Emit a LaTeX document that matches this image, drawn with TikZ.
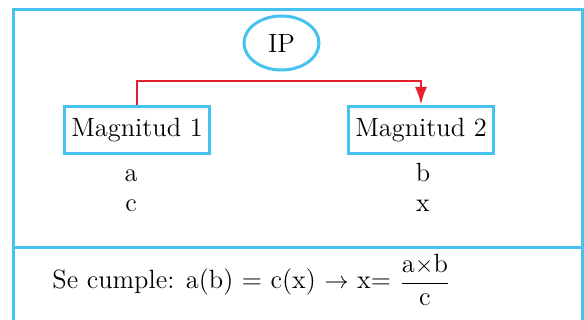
\documentclass[tikz,border=0pt]{standalone}
\usepackage{amsmath}
\usepackage{fontspec}
\usepackage{tikz}
\usetikzlibrary{arrows.meta,positioning,shapes.geometric}
\definecolor{frameblue}{HTML}{45C3EE}
\definecolor{linkred}{HTML}{E6212B}

\begin{document}
\begin{tikzpicture}[x=0.5pt,y=-0.5pt,>=Latex,
    font=\fontsize{13.2}{15}\selectfont,
    magbox/.style={draw=frameblue,line width=1.5pt,minimum width=72.5pt,
      minimum height=23.5pt,inner sep=0pt},
    valtext/.style={anchor=base,inner sep=0pt}]
    \useasboundingbox (0,0) rectangle (584,320);
    % marco exterior (abierto por abajo)
    \draw[frameblue,line width=1.5pt] (13,330) -- (13,10) -- (582,10) -- (582,330);
    \draw[frameblue,line width=1.5pt] (13,248) -- (582,248);
    \node[ellipse,draw=frameblue,line width=1.5pt,minimum width=37.5pt,
      minimum height=27pt,inner sep=0pt] (ip) at (281.5,43) {IP};
    \node[magbox] (mag1) at (137,130) {Magnitud 1};
    \node[magbox] (mag2) at (421,130) {Magnitud 2};
    \draw[linkred,line width=1.4pt,arrows={-Latex[length=9pt,width=6pt]}]
      (mag1.north) -- ++(0,-24) -| (mag2.north);
    \node[valtext] (vala) at (131,182) {a};
    \node[valtext] (valc) at (131,212) {c};
    \node[valtext] (valb) at (423,182) {b};
    \node[valtext] (valx) at (423,212) {x};
    \node[anchor=base west,inner sep=0pt] (rule) at (52,289)
      {Se cumple: a(b) = c(x) $\rightarrow$ x= $\dfrac{\mathrm{a}{\times}\mathrm{b}}{\mathrm{c}}$};
  \end{tikzpicture}
\end{document}
